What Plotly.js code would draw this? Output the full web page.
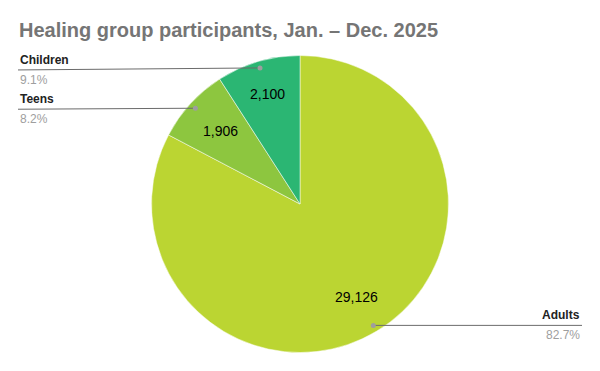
<!DOCTYPE html>
<html><head><meta charset="utf-8">
<script src="https://cdn.plot.ly/plotly-3.0.1.min.js"></script>
<style>html,body{margin:0;padding:0;background:#fff}</style>
</head><body><div id="chart" style="width:600px;height:371px"></div>
<script>
const categories = ["Adults", "Teens", "Children"];
const participants = [29126, 1906, 2100];
const sharePct = [82.7, 8.2, 9.1];
const colors = ["#BBD532", "#8DC63F", "#2BB673"];

const W = 600, H = 371;
const cx = 300, cy = 204, R = 148.5;
const dom = {x: [(cx - R) / W, (cx + R) / W], y: [1 - (cy + R) / H, 1 - (cy - R) / H]};
const px = x => x / W, py = y => 1 - y / H;

// mid angles (clockwise from 12 o'clock)
const total = sharePct.reduce((a, b) => a + b, 0);
let acc = 0;
const mids = sharePct.map(v => { const m = (acc + v / 2) / total * 2 * Math.PI; acc += v; return m; });
const pt = (a, f) => [cx + f * R * Math.sin(a), cy - f * R * Math.cos(a)];

const shapes = [], annotations = [];
// side: 1 = right, -1 = left ; label line y offsets relative to dot
const sideInfo = [
  {side: 1, xEnd: 582, dy: 0},
  {side: -1, xEnd: 18, dy: 1},
  {side: -1, xEnd: 18, dy: 2}
];
categories.forEach((c, i) => {
  const [dx, dyv] = pt(mids[i], 0.955);
  const s = sideInfo[i];
  const ly = dyv + s.dy;
  shapes.push({type: "line", xref: "paper", yref: "paper", x0: px(dx), y0: py(dyv), x1: px(s.xEnd), y1: py(ly),
    line: {color: "#6b6b6b", width: 1}});
  shapes.push({type: "circle", xref: "paper", yref: "paper", x0: px(dx - 2.5), x1: px(dx + 2.5), y0: py(dyv - 2.5), y1: py(dyv + 2.5),
    fillcolor: "#9e9e9e", line: {width: 0}});
  const anchor = s.side > 0 ? "right" : "left";
  annotations.push({xref: "paper", yref: "paper", x: px(s.xEnd), y: py(ly - 1), xanchor: anchor, yanchor: "bottom",
    text: "<b>" + c + "</b>", showarrow: false, font: {family: "Liberation Sans, Arial, sans-serif", size: 12, color: "#222"}});
  annotations.push({xref: "paper", yref: "paper", x: px(s.xEnd), y: py(ly + 1), xanchor: anchor, yanchor: "top",
    text: sharePct[i].toFixed(1) + "%", showarrow: false, font: {family: "Liberation Sans, Arial, sans-serif", size: 12, color: "#9e9e9e"}});
  const [tx, ty] = pt(mids[i], i === 0 ? 0.73 : (i === 1 ? 0.73 : 0.77));
  annotations.push({xref: "paper", yref: "paper", x: px(tx), y: py(ty), xanchor: "center", yanchor: "middle",
    text: participants[i].toLocaleString("en-US"), showarrow: false, font: {family: "Liberation Sans, Arial, sans-serif", size: 14, color: "#000"}});
});

Plotly.newPlot("chart", [{
  type: "pie", labels: categories, values: sharePct, sort: false, direction: "clockwise", rotation: 0,
  marker: {colors: colors, line: {color: "#ffffff", width: 0.5}},
  textinfo: "none", hoverinfo: "label+value", domain: dom, showlegend: false
}], {
  width: W, height: H, margin: {l: 0, r: 0, t: 0, b: 0},
  paper_bgcolor: "#fff",
  title: {text: "<b>Healing group participants, Jan. – Dec. 2025</b>", x: px(19), xanchor: "left", y: py(30), yanchor: "middle",
    font: {family: "Liberation Sans, Arial, sans-serif", size: 20, color: "#757575"}},
  shapes: shapes, annotations: annotations
}, {displayModeBar: false, staticPlot: true});
</script></body></html>
